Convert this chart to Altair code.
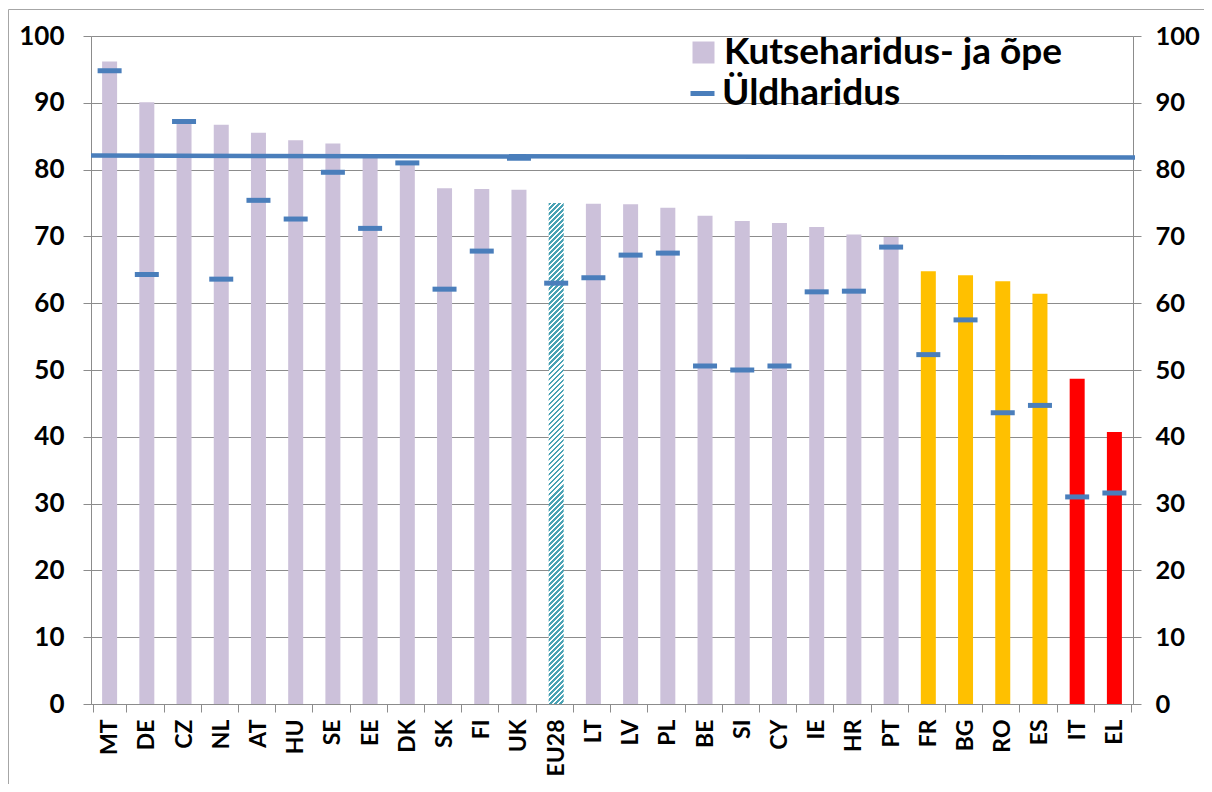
import altair as alt
import pandas as pd

countries = ["MT", "DE", "CZ", "NL", "AT", "HU", "SE", "EE", "DK", "SK", "FI", "UK", "EU28", "LT",
             "LV", "PL", "BE", "SI", "CY", "IE", "HR", "PT", "FR", "BG", "RO", "ES", "IT", "EL"]
vet = [96.2, 90.1, 87.4, 86.7, 85.5, 84.4, 83.9, 82.1, 81.2, 77.2, 77.1, 77.0, 75.0, 74.9,
       74.8, 74.3, 73.1, 72.3, 72.0, 71.4, 70.3, 69.9, 64.8, 64.2, 63.3, 61.4, 48.7, 40.7]
general = [94.8, 64.3, 87.2, 63.6, 75.4, 72.6, 79.6, 71.2, 81.0, 62.1, 67.8, 81.7, 63.0, 63.8,
           67.2, 67.5, 50.6, 50.0, 50.6, 61.7, 61.8, 68.4, 52.3, 57.5, 43.6, 44.7, 31.0, 31.6]
series_names = ["Kutseharidus- ja õpe", "Üldharidus"]
bar_groups = ([series_names[0]] * 12 + ["EU28"] + [series_names[0]] * 9
              + ["oranž"] * 4 + ["punane"] * 2)
avg_line = [82.1, 81.8]  # start and end of the general-education reference line
y_ticks = list(range(0, 101, 10))

W, H = 1042, 668
BAR_W = 15
LAV, ORANGE, RED, BLUE, TEAL = "#CCC1DA", "#FFC000", "#FF0000", "#4A7EBB", "#4AA2B4"
GRID = "#8C8C8C"
FONT = "Lato"

df = pd.DataFrame({"riik": countries, "kutse": vet, "yld": general,
                   "grupp": bar_groups, "seeria": series_names[1]})
line_df = pd.DataFrame({"a": [avg_line[0]], "b": [avg_line[1]]})

yscale = alt.Scale(domain=[0, 100], nice=False, zero=True)
x_axis = alt.Axis(labelAngle=-90, labelFont=FONT, labelFontSize=23,
                  labelFontWeight="bold", labelColor="black",
                  labelPadding=7, tickBand="extent", ticks=True,
                  tickSize=8, tickColor=GRID, domainColor=GRID, grid=False)
xenc = alt.X("riik:N", sort=countries, title=None, axis=x_axis)

base = alt.Chart(df)

bars = base.transform_filter(alt.datum.grupp != "EU28").mark_bar(size=BAR_W).encode(
    x=xenc,
    y=alt.Y("kutse:Q", scale=yscale, title=None,
            axis=alt.Axis(values=y_ticks, labelFont=FONT, labelFontSize=26,
                          labelFontWeight="bold", labelColor="black", labelPadding=19,
                          tickSize=8, tickColor=GRID, domainColor=GRID, gridColor=GRID,
                          grid=True)),
    fill=alt.Fill("grupp:N",
                  scale=alt.Scale(domain=[series_names[0], "EU28", "oranž", "punane"],
                                  range=[LAV, TEAL, ORANGE, RED]),
                  legend=alt.Legend(title=None, orient="none", legendX=594, legendY=-2,
                                    values=[series_names[0]], symbolType="square",
                                    symbolSize=484, symbolStrokeWidth=0,
                                    labelFont=FONT, labelFontSize=37, labelLimit=600,
                                    labelFontWeight="bold", labelColor="black",
                                    labelOffset=2, padding=0)),
)

# hatched EU28 bar via a striped gradient (object bounding box units)
eu_val = vet[countries.index("EU28")]
bar_h = eu_val / 100 * H
r = BAR_W / bar_h
k = (r + 1) / (r * r + 1)
gx2, gy2 = k * r, k
n = int(round((BAR_W + bar_h) / 5.0))
stops = []
for i in range(n):
    a, m, b = i / n, (i + 0.55) / n, (i + 1) / n
    stops += [alt.GradientStop(offset=a, color=TEAL), alt.GradientStop(offset=m, color=TEAL),
              alt.GradientStop(offset=m, color="white"), alt.GradientStop(offset=b, color="white")]
grad = alt.LinearGradient(gradient="linear", stops=stops, x1=0, y1=0, x2=gx2, y2=gy2)
eu_bar = base.transform_filter(alt.datum.grupp == "EU28").mark_bar(
    size=BAR_W, color=grad).encode(
    x=xenc, y=alt.Y("kutse:Q", scale=yscale, axis=None))

avg = alt.Chart(line_df).mark_rule(color=BLUE, strokeWidth=4.5).encode(
    x=alt.value(0), x2=alt.value(W + 2),
    y=alt.Y("a:Q", scale=yscale, axis=None), y2="b:Q")

ticks = base.mark_tick(size=24, thickness=5, opacity=1).encode(
    x=xenc,
    y=alt.Y("yld:Q", scale=yscale, title=None,
            axis=alt.Axis(orient="right", values=y_ticks, labelFont=FONT, labelFontSize=25.5,
                          labelFontWeight="bold", labelColor="black", labelPadding=14,
                          tickSize=8, tickColor=GRID, domainColor=GRID, grid=False)),
    color=alt.Color("seeria:N", scale=alt.Scale(domain=[series_names[1]], range=[BLUE]),
                    legend=alt.Legend(title=None, orient="none", legendX=593, legendY=39,
                                      symbolType="M-1,-0.21H1V0.21H-1Z", symbolSize=576,
                                      symbolStrokeWidth=0, labelFont=FONT, labelFontSize=37,
                                      labelLimit=600,
                                      labelFontWeight="bold", labelColor="black",
                                      labelOffset=1, padding=0)),
)

frame = alt.Chart(pd.DataFrame({"f": [0]})).mark_rect(
    fillOpacity=0, stroke="#A6A6A6", strokeWidth=1).encode(
    x=alt.value(-82.5), x2=alt.value(W + 300), y=alt.value(-26.5), y2=alt.value(H + 300))

chart = alt.layer(bars, eu_bar, avg, ticks, frame).resolve_scale(
    fill="independent", color="independent").resolve_axis(y="independent").properties(
    width=W, height=H,
    autosize=alt.AutoSizeParams(type="none"),
    padding={"left": 83, "top": 28, "right": 71, "bottom": 80},
).configure_view(stroke=None).configure(background="white")

chart.save("out.html", embed_options={"renderer": "svg", "actions": False})
